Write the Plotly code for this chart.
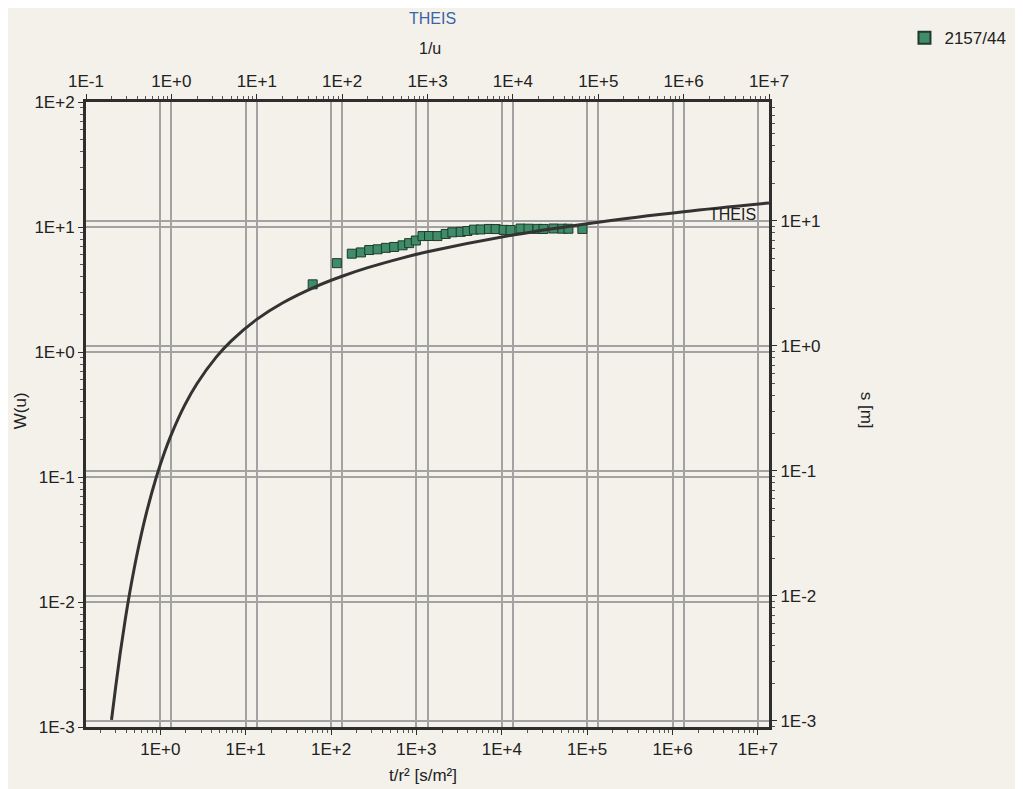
import plotly.graph_objects as go

# ---- data ----
# Theis type curve (plotted on 1/u , W(u) axes)
theis_inv_u = [0.199, 0.2222, 0.25, 0.2857, 0.3333, 0.4, 0.5, 0.6667, 0.8333, 1.0,
               1.4286, 2.0, 3.333, 5.0, 10.0, 20.0, 50.0, 100.0, 200.0, 500.0,
               1.0e3, 1.0e4, 1.0e5, 1.0e6, 1.0e7]
theis_w = [0.00114, 0.00207, 0.00378, 0.00697, 0.01305, 0.02491, 0.0489, 0.100, 0.1584, 0.2194,
           0.3738, 0.5598, 0.9057, 1.2227, 1.8229, 2.4679, 3.3547, 4.0379, 4.7261, 5.6394,
           6.3315, 8.6332, 10.9357, 13.2383, 15.5409]

# Observation well 2157/44 (plotted on t/r^2 , s axes)
obs_name = "2157/44"
obs_t_r2 = [61, 117, 175, 224, 280, 351, 439, 549, 689, 822, 985, 1178, 1407, 1763,
            2203, 2637, 3302, 3953, 4721, 5653, 7074, 8472, 10500, 12676, 16600,
            20570, 26200, 30800, 40300, 51300, 60300, 87900]
obs_s = [3.10, 4.58, 5.45, 5.58, 5.83, 5.91, 6.07, 6.17, 6.36, 6.62, 6.95, 7.54, 7.55, 7.54,
         7.84, 8.08, 8.15, 8.28, 8.49, 8.52, 8.60, 8.58, 8.45, 8.43, 8.66,
         8.64, 8.61, 8.60, 8.67, 8.64, 8.63, 8.60]

# tick labels
top_tickvals = [1e-1, 1e0, 1e1, 1e2, 1e3, 1e4, 1e5, 1e6, 1e7]
top_ticktext = ["1E-1", "1E+0", "1E+1", "1E+2", "1E+3", "1E+4", "1E+5", "1E+6", "1E+7"]
bottom_tickvals = [1e0, 1e1, 1e2, 1e3, 1e4, 1e5, 1e6, 1e7]
bottom_ticktext = ["1E+0", "1E+1", "1E+2", "1E+3", "1E+4", "1E+5", "1E+6", "1E+7"]
left_tickvals = [1e-3, 1e-2, 1e-1, 1e0, 1e1, 1e2]
left_ticktext = ["1E-3", "1E-2", "1E-1", "1E+0", "1E+1", "1E+2"]
right_tickvals = [1e-3, 1e-2, 1e-1, 1e0, 1e1]
right_ticktext = ["1E-3", "1E-2", "1E-1", "1E+0", "1E+1"]

# ---- styling ----
BG = "#f3f1ea"
FRAME = "#2e2e2e"
GRID = "#a2a2a2"
FONT = "Liberation Sans, Arial, sans-serif"
TXT = "#222222"

def minor_vals(lo, hi):
    vals = []
    for e in range(lo, hi + 1):
        for m in range(2, 10):
            vals.append(m * 10.0 ** e)
    return vals

fig = go.Figure()

# empty trace on the base (x, y) pair so both overlays share one main subplot
fig.add_trace(go.Scatter(x=[], y=[], xaxis="x", yaxis="y", showlegend=False,
                         hoverinfo="skip"))

fig.add_trace(go.Scatter(
    x=theis_inv_u, y=theis_w, xaxis="x2", yaxis="y",
    mode="lines", line=dict(color="#333333", width=3, shape="spline"),
    showlegend=False, name="THEIS", hoverinfo="skip"))

fig.add_trace(go.Scatter(
    x=obs_t_r2, y=obs_s, xaxis="x", yaxis="y2",
    mode="markers", name=obs_name,
    marker=dict(symbol="square", size=9, color="#3f8c69",
                line=dict(color="#1f3a2c", width=1))))

axis_common = dict(type="log", showgrid=True, gridcolor=GRID, gridwidth=1.5,
                   zeroline=False, showline=True, linecolor=FRAME, linewidth=3,
                   ticks="outside", ticklen=5, tickcolor=FRAME, tickwidth=1,
                   tickfont=dict(family=FONT, size=17, color=TXT))

def minor(lo, hi):
    return dict(tickmode="array", tickvals=minor_vals(lo, hi), ticks="outside",
                ticklen=3, tickcolor="#555555", showgrid=False)

fig.update_layout(
    width=1015, height=781,
    paper_bgcolor=BG, plot_bgcolor=BG,
    margin=dict(l=78, r=249, t=93, b=62),
    font=dict(family=FONT, color=TXT),
    xaxis=dict(axis_common, range=[-0.87, 7.13], side="bottom", anchor="y",
               tickmode="array", tickvals=bottom_tickvals, ticktext=bottom_ticktext,
               minor=minor(-1, 7)),
    xaxis2=dict(axis_common, range=[-1.0, 7.0], side="top", overlaying="x",
                anchor="y",
                tickmode="array", tickvals=top_tickvals, ticktext=top_ticktext,
                minor=minor(-1, 7)),
    yaxis=dict(axis_common, range=[-3, 2], side="left", anchor="x",
               tickmode="array", tickvals=left_tickvals, ticktext=left_ticktext,
               minor=minor(-3, 2)),
    yaxis2=dict(axis_common, range=[-3.05, 1.95], side="right", overlaying="y",
                anchor="x",
                tickmode="array", tickvals=right_tickvals, ticktext=right_ticktext,
                minor=minor(-4, 1)),
    legend=dict(x=1.355, y=1.102, xanchor="right", yanchor="middle",
                bgcolor="rgba(0,0,0,0)", font=dict(family=FONT, size=17, color=TXT),
                itemsizing="constant", itemwidth=30),
    showlegend=True,
)

annotations = [
    dict(text="THEIS", x=0.508, y=1.133, font=dict(size=16, color="#3b64a8")),
    dict(text="1/u", x=0.503, y=1.085, font=dict(size=16, color=TXT)),
    dict(text="t/r² [s/m²]", x=0.493, y=-0.077, font=dict(size=17, color=TXT)),
    dict(text="W(u)", x=-0.096, y=0.506, textangle=-90, font=dict(size=17, color=TXT)),
    dict(text="s [m]", x=1.142, y=0.506, textangle=90, font=dict(size=17, color=TXT)),
    dict(text="THEIS", x=0.946, y=0.820, font=dict(size=16, color=TXT)),
]
for a in annotations:
    a.update(xref="paper", yref="paper", showarrow=False, xanchor="center", yanchor="middle")
    a["font"]["family"] = FONT
fig.update_layout(annotations=annotations)

fig.write_html("out.html")
